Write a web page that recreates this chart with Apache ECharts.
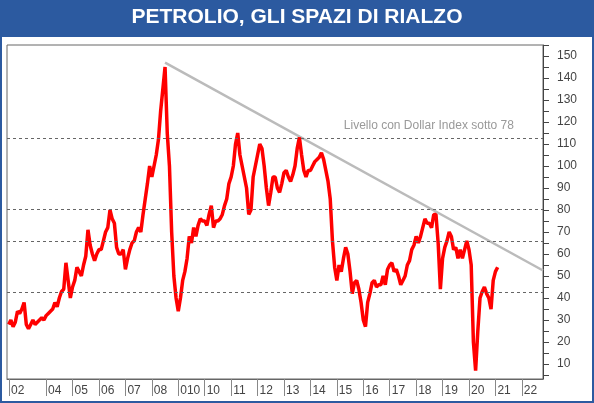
<!DOCTYPE html>
<html><head><meta charset="utf-8">
<script src="https://cdn.jsdelivr.net/npm/echarts@6/dist/echarts.min.js"></script>
<style>html,body{margin:0;padding:0;background:#fff}#c{width:594px;height:403px}</style>
</head><body><div id="c"></div>
<script>
const title = 'PETROLIO, GLI SPAZI DI RIALZO';
const startYear = 2002, startMonth = 7; // Aug 2002 (0-based month)
const prices = [
  28,30,27,29,34,
  33,35,38,28,26,28,30,28,29,30,31,30,
  32,33,34,35,38,36,40,43,44,56,48,40,
  45,48,54,52,50,55,59,71,64,60,57,60,
  62,62,66,70,72,80,76,74,63,60,60,62,
  53,58,62,65,66,70,72,70,78,85,92,100,
  95,100,105,112,125,135,145,115,100,70,50,40,
  34,40,48,52,58,68,65,72,68,73,76,75,
  75,73,78,82,72,75,75,76,78,82,85,92,
  95,100,110,115,105,100,95,90,78,80,95,100,
  105,110,108,100,90,82,88,95,95,90,88,92,
  97,98,95,93,96,100,108,113,105,98,95,98,
  98,100,102,103,104,106,103,98,93,85,66,54,
  48,55,52,58,63,60,52,42,47,48,44,38,
  30,27,38,42,47,48,45,46,46,50,46,53,
  55,56,52,53,50,46,48,50,55,57,62,64,
  68,65,68,72,76,74,74,72,78,78,65,44,
  58,63,66,70,68,62,63,58,62,58,62,66,
  62,55,20,7,25,40,43,45,42,40,35,48,
  52,54
];
const levels = [112.7, 80.5, 66, 42.7];
const levelLabel = 'Livello con Dollar Index sotto 78';
const trend = [[2008.5, 147], [2022.8, 52.5]];
const xTicks = [2002.6,2004,2005,2006,2007,2008,2009,2010,2011,2012,2013,2014,2015,2016,2017,2018,2019,2020,2021,2022];
const xTickLabels = ['02','04','05','06','07','08','010','10','11','12','13','14','15','16','17','18','19','20','21','22'];
const yLabels = [10,20,30,40,50,60,70,80,90,100,110,120,130,140,150];
const yTicks = [5,10,15,20,25,30,35,40,45,50,55,60,65,70,75,80,85,90,95,100,105,110,115,120,125,130,135,140,145,150,155];

const series = prices.map((v,i)=>[startYear + (startMonth + i)/12, v]);
const chart = echarts.init(document.getElementById('c'));
const font = 'Liberation Sans, Arial, sans-serif';
chart.setOption({
  animation:false,
  textStyle:{fontFamily:font},
  grid:{left:7,right:51,top:45,bottom:24,show:true,borderColor:'#666',borderWidth:1},
  xAxis:{type:'value',min:2002.52,max:2022.8,
    axisLine:{show:true,lineStyle:{color:'#666'}},
    splitLine:{show:false},
    axisTick:{show:true,length:17,customValues:xTicks,lineStyle:{color:'#888'}},
    axisLabel:{customValues:xTicks,align:'left',padding:[0,0,0,2],margin:6,fontSize:12,color:'#444',
      formatter:v=>{const i=xTicks.findIndex(t=>Math.abs(t-v)<1e-6);return i>=0?xTickLabels[i]:'';}}
  },
  yAxis:{type:'value',position:'right',min:3.2,max:155,
    axisLine:{show:true,lineStyle:{color:'#444'}},
    splitLine:{show:false},
    axisTick:{show:true,length:6,customValues:yTicks,lineStyle:{color:'#444'}},
    axisLabel:{customValues:yLabels,margin:14,fontSize:12,color:'#444'}
  },
  series:[
    {type:'line',data:series,symbol:'none',lineStyle:{color:'#ff0000',width:3.5},z:3,
      markLine:{silent:true,symbol:'none',label:{show:false},
        lineStyle:{color:'#666',type:[3,3],width:1},
        data:levels.map(v=>({yAxis:v}))}},
    {type:'line',data:trend,symbol:'none',lineStyle:{color:'#bbb',width:2.5},z:2}
  ]
});
chart.setOption({graphic:[
  {type:'rect',shape:{x:0,y:0,width:594,height:37},style:{fill:'#2c5aa0'}},
  {type:'text',left:'center',top:7,style:{text:title,fill:'#fff',font:'bold 21px '+font}},
  {type:'rect',shape:{x:1,y:1,width:592,height:401},style:{fill:'none',stroke:'#2c5aa0',lineWidth:2}},
  {type:'text',x:chart.convertToPixel({xAxisIndex:0},2021.7),y:chart.convertToPixel({yAxisIndex:0},levels[0])-18,
    style:{text:levelLabel,fill:'#999',font:'12px '+font,align:'right'}}
]});
</script></body></html>
